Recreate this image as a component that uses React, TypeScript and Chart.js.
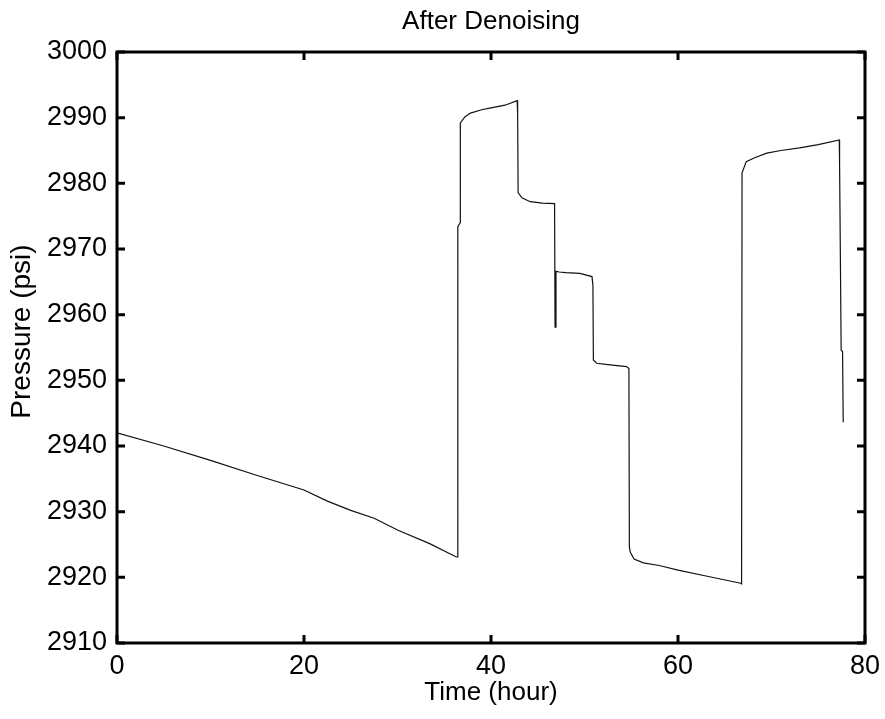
import React, { useEffect, useRef } from "react";
import { Chart, registerables } from "chart.js";

Chart.register(...registerables);

// Time (hour)
const timeHours: number[] = [
  0, 5, 10, 15, 20, 22.5, 25, 27.5, 30, 33.5, 35.6, 36.3,
  36.4, 36.45, 36.7, 36.72, 37.2, 37.8, 39, 40, 41.5, 42.8,
  42.85, 42.9, 43.3, 44.2, 45.5, 46.8,
  46.85, 46.95, 47.3, 48, 49.5, 50.8,
  50.9, 50.95, 51.3, 52.5, 54.5, 54.75,
  54.8, 54.9, 55.3, 56.3, 58, 60, 63, 66.7,
  66.8, 66.85, 67.3, 68.2, 69.5, 71, 73, 75, 77.25,
  77.28, 77.45, 77.6, 77.67,
];

// Pressure (psi)
const pressurePsi: number[] = [
  2942, 2940, 2937.8, 2935.5, 2933.3, 2931.6, 2930.2, 2929, 2927.2, 2925.1, 2923.6, 2923.1,
  2923.1, 2973.4, 2974, 2989.2, 2990.1, 2990.7, 2991.2, 2991.5, 2991.9, 2992.6,
  2990.5, 2978.6, 2977.8, 2977.2, 2977, 2976.9,
  2958.1, 2966.6, 2966.5, 2966.4, 2966.3, 2965.8,
  2964.5, 2953.1, 2952.6, 2952.4, 2952.1, 2951.8,
  2924.6, 2923.8, 2922.8, 2922.2, 2921.8, 2921.1, 2920.2, 2919.1,
  2919, 2981.6, 2983.3, 2983.9, 2984.6, 2985, 2985.4, 2985.9, 2986.6,
  2983.2, 2954.6, 2954.4, 2943.6,
];

const xTickValues: number[] = [0, 20, 40, 60, 80];
const yTickValues: number[] = [2910, 2920, 2930, 2940, 2950, 2960, 2970, 2980, 2990, 3000];

const chartTitle = "After Denoising";
const xTitle = "Time (hour)";
const yTitle = "Pressure (psi)";

const FONT = "'Liberation Sans', Arial, Helvetica, sans-serif";

const framePlugin = {
  id: "matlabFrame",
  afterDatasetsDraw(chart: any) {
    const { ctx, chartArea, scales } = chart;
    const { left, right, top, bottom } = chartArea;
    ctx.save();
    ctx.strokeStyle = "#000";
    ctx.lineWidth = 3;
    ctx.lineCap = "butt";
    ctx.strokeRect(left, top, right - left, bottom - top);
    const tl = 8;
    ctx.beginPath();
    for (const t of scales.x.ticks) {
      const px = scales.x.getPixelForValue(t.value);
      ctx.moveTo(px, bottom);
      ctx.lineTo(px, bottom - tl);
      ctx.moveTo(px, top);
      ctx.lineTo(px, top + tl);
    }
    for (const t of scales.y.ticks) {
      const py = scales.y.getPixelForValue(t.value);
      ctx.moveTo(left, py);
      ctx.lineTo(left + tl, py);
      ctx.moveTo(right, py);
      ctx.lineTo(right - tl, py);
    }
    ctx.stroke();

    // y-axis title (MATLAB places it slightly above the axis centre)
    ctx.fillStyle = "#000";
    ctx.font = `28px ${FONT}`;
    ctx.textAlign = "center";
    ctx.textBaseline = "middle";
    ctx.translate(22, (top + bottom) / 2 - 16);
    ctx.rotate(-Math.PI / 2);
    ctx.fillText(yTitle, 0, 0);
    ctx.restore();
  },
};

export default function App() {
  const ref = useRef<HTMLCanvasElement | null>(null);

  useEffect(() => {
    const canvas = ref.current;
    if (!canvas) return;
    const points = timeHours.map((t, i) => ({ x: t, y: pressurePsi[i] }));
    const chart = new Chart(canvas, {
      type: "line",
      data: {
        datasets: [
          {
            label: "Pressure",
            data: points,
            borderColor: "#111",
            borderWidth: 1.2,
            pointRadius: 0,
            tension: 0,
            fill: false,
          },
        ],
      },
      options: {
        animation: false,
        responsive: false,
        devicePixelRatio: 1,
        layout: { padding: { left: 0, right: 20, top: 0, bottom: 0 } },
        plugins: {
          legend: { display: false },
          tooltip: { enabled: false },
          title: {
            display: true,
            fullSize: false,
            text: chartTitle,
            color: "#000",
            font: { family: FONT, size: 26, weight: "normal" },
            padding: { top: 6, bottom: 14.8 },
          },
        },
        scales: {
          x: {
            type: "linear",
            min: 0,
            max: 80,
            afterBuildTicks: (scale: any) => {
              scale.ticks = xTickValues.map((v) => ({ value: v }));
            },
            afterFit: (scale: any) => {
              scale.height = 76;
              scale.paddingLeft = 0;
              scale.paddingRight = 0;
            },
            grid: { display: false, drawTicks: false },
            border: { display: false },
            ticks: {
              color: "#000",
              font: { family: FONT, size: 27 },
              padding: 7,
              maxRotation: 0,
              autoSkip: false,
              callback: (v: any) => String(v),
            },
            title: {
              display: true,
              text: xTitle,
              color: "#000",
              font: { family: FONT, size: 26 },
              padding: { top: 0, bottom: 11 },
            },
          },
          y: {
            type: "linear",
            min: 2910,
            max: 3000,
            afterBuildTicks: (scale: any) => {
              scale.ticks = yTickValues.map((v) => ({ value: v }));
            },
            afterFit: (scale: any) => {
              scale.width = 117;
              scale.paddingTop = 0;
              scale.paddingBottom = 0;
            },
            grid: { display: false, drawTicks: false },
            border: { display: false },
            ticks: {
              color: "#000",
              font: { family: FONT, size: 27 },
              padding: 10,
              autoSkip: false,
              callback: (v: any) => String(v),
            },
            title: { display: false, text: yTitle },
          },
        },
      },
      plugins: [framePlugin],
    });
    return () => chart.destroy();
  }, []);

  return (
    <div style={{ position: "fixed", left: 0, top: 0, width: 885, height: 719, background: "#fff" }}>
      <canvas ref={ref} width={885} height={719} style={{ width: 885, height: 719, display: "block" }} />
    </div>
  );
}
